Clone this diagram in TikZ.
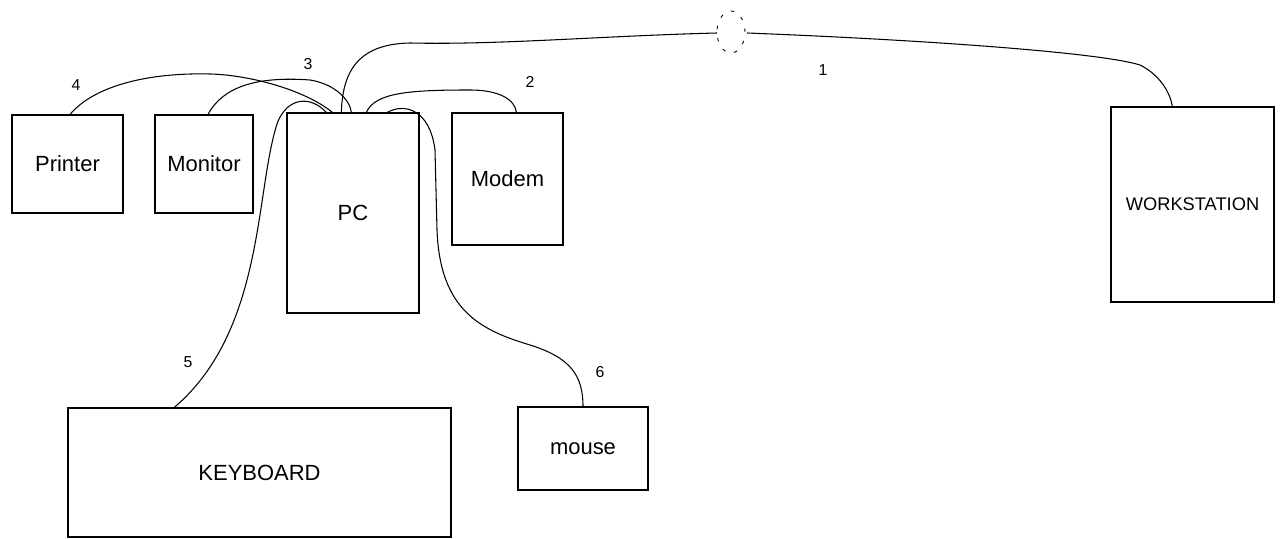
\documentclass[tikz,border=0pt]{standalone}
\usepackage{fontspec}
\setmainfont{Liberation Sans}
\begin{document}
\begin{tikzpicture}[
  unit/.style={draw, line width=0.7pt, inner sep=0pt, font=\fontsize{12.5}{14}\selectfont},
  num/.style={font=\fontsize{9}{11}\selectfont},
  cable/.style={line width=0.6pt}]
\useasboundingbox (0,0) rectangle (25.6,-10.78);
\node[unit, minimum width=2.22cm, minimum height=1.96cm] (printer) at (1.35,-3.28){Printer};
\node[unit, minimum width=1.96cm, minimum height=1.96cm] (monitor) at (4.08,-3.28){Monitor};
\node[unit, minimum width=2.64cm, minimum height=4cm] (pc) at (7.06,-4.26){PC};
\node[unit, minimum width=2.22cm, minimum height=2.64cm] (modem) at (10.15,-3.58){Modem};
\node[unit, minimum width=3.26cm, minimum height=3.9cm, font=\fontsize{10.4}{12}\selectfont] (ws) at (23.85,-4.09){WORKSTATION};
\node[unit, minimum width=7.66cm, minimum height=2.58cm] (kbd) at (5.19,-9.45){KEYBOARD};
\node[unit, minimum width=2.6cm, minimum height=1.66cm] (mouse) at (11.66,-8.97){mouse};
\node[num] (n1) at (16.46,-1.4){1};
\node[num] (n2) at (10.6,-1.64){2};
\node[num] (n3) at (6.16,-1.28){3};
\node[num] (n4) at (1.52,-1.7){4};
\node[num] (n5) at (3.76,-7.24){5};
\node[num] (n6) at (12,-7.44){6};
% break in the line to the workstation
\coordinate (brkL) at (14.34,-0.66);
\coordinate (brkR) at (14.94,-0.66);
\draw[line width=0.5pt, dash pattern=on 2pt off 5pt] (14.62,-0.64) ellipse (0.28 and 0.42);
\draw[cable] ([xshift=1.1cm]pc.north west) .. controls (6.85,-1.5) and (7.1,-0.88) .. (8.2,-0.86)
  .. controls (10,-0.9) and (12,-0.72) .. (brkL);
\draw[cable] (brkR) .. controls (18.5,-0.8) and (22,-1.05) .. (22.8,-1.3)
  .. controls (23.2,-1.5) and (23.4,-1.85) .. ([xshift=1.24cm]ws.north west);
\draw[cable] ([xshift=1.6cm]pc.north west) .. controls (7.5,-1.85) and (8.2,-1.8) .. (9.4,-1.8)
  .. controls (10,-1.8) and (10.3,-2) .. ([xshift=1.3cm]modem.north west);
\draw[cable] ([xshift=0.05cm]printer.north) .. controls (1.9,-1.7) and (3,-1.45) .. (4.2,-1.48)
  .. controls (5,-1.5) and (6.1,-1.8) .. ([xshift=0.92cm]pc.north west);
\draw[cable] ([xshift=0.08cm]monitor.north) .. controls (4.45,-1.75) and (5.1,-1.52) .. (6.2,-1.6)
  .. controls (6.7,-1.68) and (7,-2) .. ([xshift=1.3cm]pc.north west);
\draw[cable] ([xshift=0.8cm]pc.north west) .. controls (6.2,-1.9) and (5.75,-1.95) .. (5.55,-2.45)
  .. controls (5.1,-3.8) and (5.3,-6.6) .. ([xshift=2.14cm]kbd.north west);
\draw[cable] ([xshift=2.02cm]pc.north west) .. controls (8.1,-2.05) and (8.6,-2.2) .. (8.7,-3)
  -- (8.74,-4.6) .. controls (8.8,-6.2) and (9.6,-6.6) .. (10.6,-6.9)
  .. controls (11.4,-7.15) and (11.66,-7.5) .. (mouse.north);
\end{tikzpicture}
\end{document}
